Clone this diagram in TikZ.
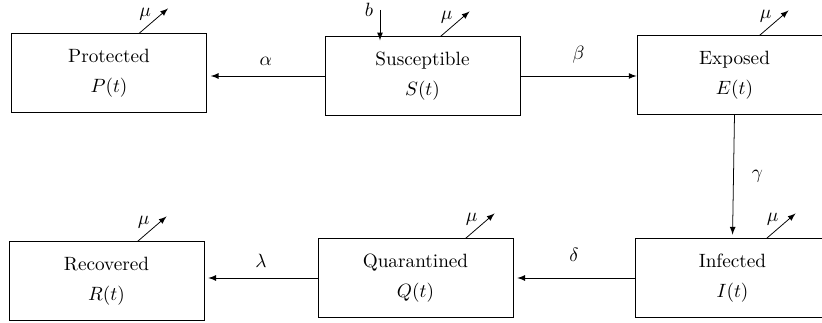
\documentclass[tikz,border=0pt]{standalone}
\usepackage{amsmath}
\usetikzlibrary{positioning}

\tikzset{
  compartment/.style={draw, line width=0.5pt, rectangle, minimum width=101.4pt, minimum height=40.6pt, align=center},
  flow/.style={->, shorten >=2pt},
  death/.style={->}
}

\begin{document}
\begin{tikzpicture}[x=0.52pt, y=0.52pt, >=latex, every node/.style={font=\normalsize}]
  \useasboundingbox (0,0) rectangle (822,323);
  % Top row
  \node[compartment] (P) at (109,250) {Protected\\[3.6pt]$P(t)$};
  \node[compartment] (S) at (422.5,247) {Susceptible\\[3.6pt]$S(t)$};
  \node[compartment] (E) at (734.5,248) {Exposed\\[3.6pt]$E(t)$};
  % Bottom row
  \node[compartment] (R) at (106.5,42) {Recovered\\[3.6pt]$R(t)$};
  \node[compartment] (Q) at (415.5,45) {Quarantined\\[3.6pt]$Q(t)$};
  \node[compartment] (I) at (732.5,45) {Infected\\[3.6pt]$I(t)$};
  % Recruitment
  \coordinate (bin) at (380,313);
  \draw[->] (bin) node[left] {$b$} -- ([yshift=-2pt]bin |- S.north);
  % Transitions
  \draw[flow] (S.west) -- (S.west -| P.east) node[midway, above=2pt] {$\alpha$};
  \draw[->] (S.east) -- (S.east -| E.west) node[midway, above=3pt] {$\beta$};
  \draw[flow] (E.south) -- (I.north) node[midway, right=6pt] {$\gamma$};
  \draw[flow] (I.west) -- (I.west -| Q.east) node[midway, above=5pt] {$\delta$};
  \draw[flow] (Q.west) -- (Q.west -| R.east) node[midway, above=2pt] {$\lambda$};
  % Natural deaths
  \foreach \cname/\off in {P/30, S/18, E/25, I/34, Q/50, R/31}{
    \draw[death] ([xshift=\off*0.52pt]\cname.north) -- ++(29,25)
      node[pos=0.75, left=1.5pt] {$\mu$};
  }
\end{tikzpicture}
\end{document}
